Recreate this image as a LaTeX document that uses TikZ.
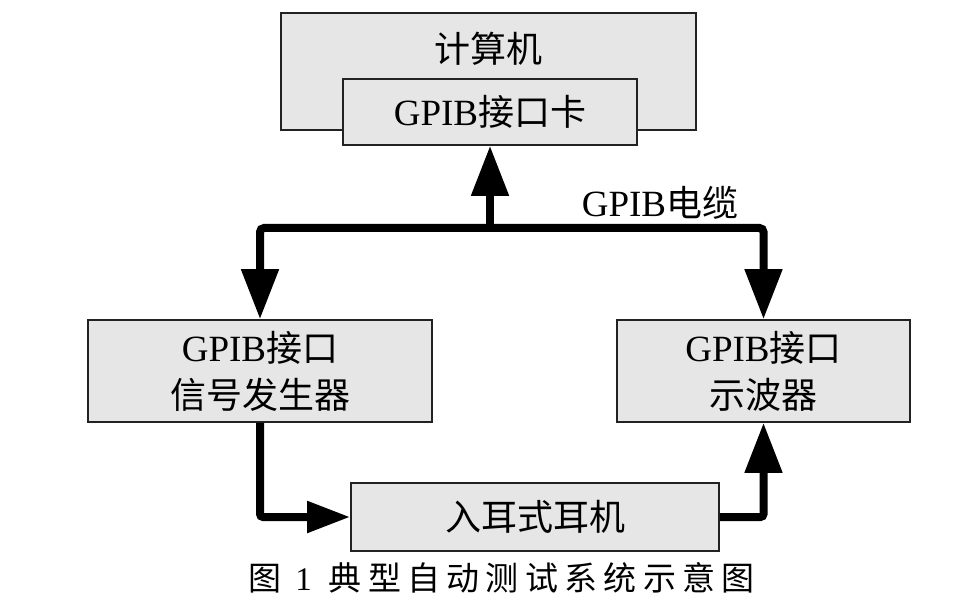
\documentclass[tikz,border=0pt]{standalone}
\usepackage{fontspec}
\setmainfont{Liberation Serif}
\newfontfamily\cjkraw{Noto Sans CJK SC}
\newcommand{\cjk}{\cjkraw\fontsize{36}{47}\selectfont}
\newfontfamily\capcjk[LetterSpace=19]{Noto Sans CJK SC}
\usetikzlibrary{arrows.meta}
\newcommand{\G}{{\rmfamily GPIB}}
\definecolor{boxfill}{HTML}{E6E6E6}
\definecolor{boxline}{HTML}{222222}
\tikzset{
  box/.style={draw=boxline, line width=1.6pt, fill=boxfill, inner sep=0pt, align=center,
    font=\fontsize{37}{47}\selectfont},
  txt/.style={inner sep=0pt, align=center, font=\fontsize{37}{47}\selectfont},
  bus/.style={line width=8pt, black},
  tipv/.style={-{Triangle[length=50pt,width=36pt]}},
  tiph/.style={-{Triangle[length=43pt,width=30pt]}},
}
\begin{document}
\begin{tikzpicture}[x=1pt,y=-1pt]
\useasboundingbox (0,0) rectangle (960,612);
\node[box, minimum width=415pt, minimum height=117pt] (comp) at (488.5,71.5) {};
\node[txt] (comptext) at (488,49) {\cjk 计算机};
\node[box, minimum width=294pt, minimum height=66pt] (card) at (490,112) {\G{\cjk 接口卡}};
\node[box, minimum width=344pt, minimum height=102pt] (gen) at (260,371) {\G{\cjk 接口}\\{\cjk 信号发生器}};
\node[box, minimum width=293pt, minimum height=102pt] (osc) at (763.5,371) {\G{\cjk 接口}\\{\cjk 示波器}};
\node[box, minimum width=368pt, minimum height=68pt] (ear) at (535,517) {\cjk 入耳式耳机};
\node[txt] (cable) at (660,203) {\G{\cjk 电缆}};
\node[txt, font=\fontsize{33}{40}\selectfont] (cap) at (501.5,578) {{\capcjk 图}\hspace{14pt}{\rmfamily 1}\hspace{17pt}{\capcjk 典型自动测试系统示意图}};
\coordinate (junc) at (490,228);
\draw[bus, tipv, rounded corners=4pt] (junc) -- (card.south);
\draw[bus, {Triangle[length=50pt,width=36pt]}-{Triangle[length=50pt,width=36pt]}, rounded corners=4pt]
  (gen.north) -- (gen.north |- junc) -- (osc.north |- junc) -- (osc.north);
\draw[bus, tiph, rounded corners=3pt] (gen.south) |- (ear.west);
\draw[bus, tipv, rounded corners=3pt] (ear.east) -| (osc.south);
\end{tikzpicture}
\end{document}
